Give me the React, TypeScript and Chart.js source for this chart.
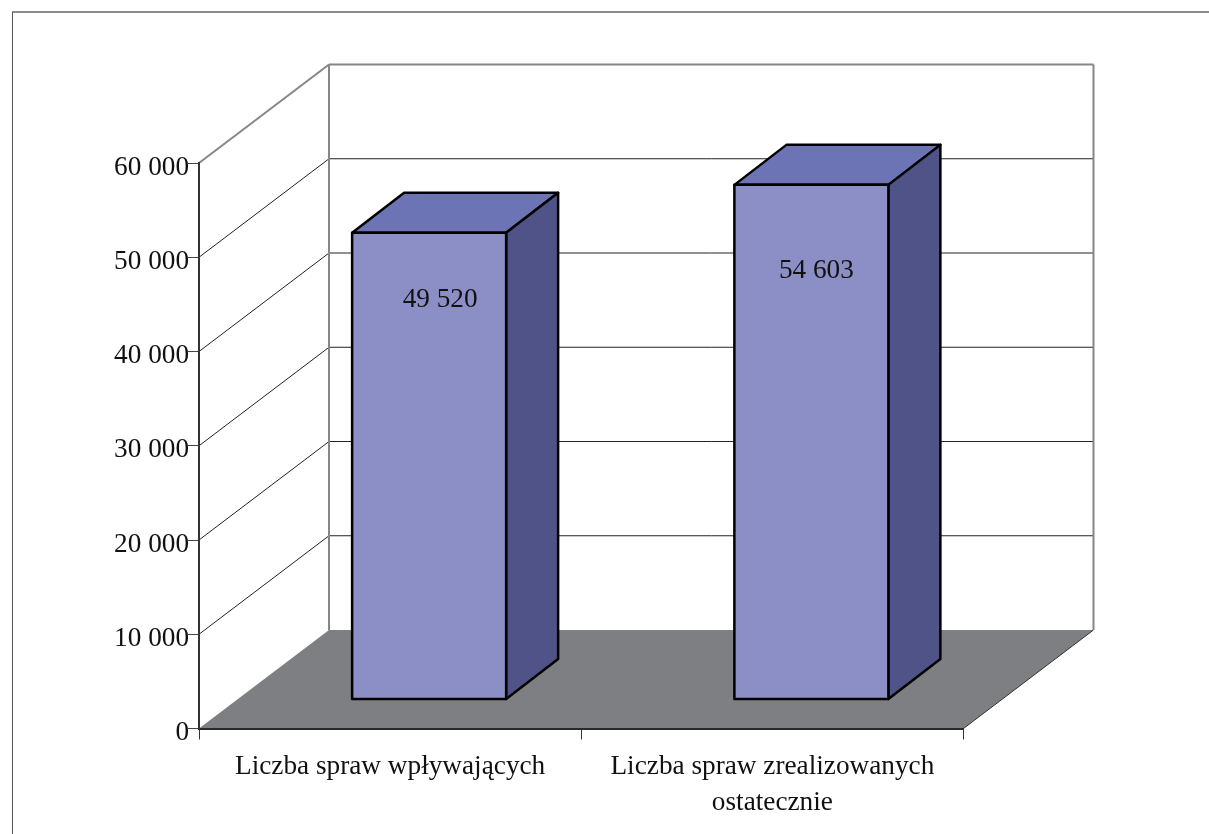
import React, { useEffect, useRef } from "react";
import { Chart, registerables } from "chart.js";

Chart.register(...registerables);

const categories: (string | string[])[] = [
  "Liczba spraw wpływających",
  ["Liczba spraw zrealizowanych", "ostatecznie"],
];
const caseCounts = [49520, 54603];
const axisMax = 60000;
const axisStep = 10000;

const FONT = "'Liberation Serif'";
const FONT_SIZE = 27.25;
const WALL_DX = 130;
const WALL_DY = -98.5;
const BAR_SHIFT_X = 39;
const BAR_SHIFT_Y = -29;
const BAR_DX = 52;
const BAR_DY = -40;
const LABEL_OFFSETS = [
  { x: 11, y: 67 },
  { x: 5, y: 86 },
];

const fmt = (v: number) => String(v).replace(/\B(?=(\d{3})+(?!\d))/g, " ");

const poly = (ctx: CanvasRenderingContext2D, pts: number[][], fill?: string, stroke?: string, lw = 1) => {
  ctx.beginPath();
  pts.forEach(([x, y], i) => (i ? ctx.lineTo(x, y) : ctx.moveTo(x, y)));
  ctx.closePath();
  if (fill) {
    ctx.fillStyle = fill;
    ctx.fill();
  }
  if (stroke) {
    ctx.strokeStyle = stroke;
    ctx.lineWidth = lw;
    ctx.lineJoin = "round";
    ctx.stroke();
  }
};
const line = (ctx: CanvasRenderingContext2D, x1: number, y1: number, x2: number, y2: number, c: string, lw: number) => {
  ctx.beginPath();
  ctx.moveTo(x1, y1);
  ctx.lineTo(x2, y2);
  ctx.strokeStyle = c;
  ctx.lineWidth = lw;
  ctx.stroke();
};

const scene3d = {
  id: "scene3d",
  beforeDraw(chart: any) {
    const { ctx, chartArea: a, scales } = chart;
    const y = scales.y;
    ctx.save();
    ctx.fillStyle = "#ffffff";
    ctx.fillRect(0, 0, chart.width, chart.height);
    // outer frame
    line(ctx, 12.5, 12, 12.5, chart.height, "#555555", 1);
    line(ctx, 12, 12, chart.width, 12, "#666666", 1.5);
    // floor
    poly(ctx, [
      [a.left, a.bottom],
      [a.left + WALL_DX, a.bottom + WALL_DY],
      [a.right + WALL_DX, a.bottom + WALL_DY],
      [a.right, a.bottom],
    ], "#7e7f83");
    line(ctx, a.right, a.bottom, a.right + WALL_DX, a.bottom + WALL_DY, "#333333", 1);
    // gridlines on side and back walls
    y.ticks.forEach((t: any) => {
      const py = y.getPixelForValue(t.value);
      if (t.value === 0) return;
      const top = t.value === axisMax;
      const c = top ? "#85858b" : "#222222";
      const w = top ? 2 : 1;
      line(ctx, a.left, py, a.left + WALL_DX, py + WALL_DY, c, w);
      line(ctx, a.left + WALL_DX, py + WALL_DY, a.right + WALL_DX, py + WALL_DY, c, w);
    });
    // wall verticals
    line(ctx, a.left + WALL_DX, a.top + WALL_DY, a.left + WALL_DX, a.bottom + WALL_DY, "#85858b", 2);
    line(ctx, a.right + WALL_DX, a.top + WALL_DY, a.right + WALL_DX, a.bottom + WALL_DY, "#85858b", 2);
    ctx.restore();
  },
  beforeDatasetsDraw(chart: any) {
    const { ctx } = chart;
    ctx.save();
    ctx.translate(BAR_SHIFT_X, BAR_SHIFT_Y);
    chart.getDatasetMeta(0).data.forEach((bar: any) => {
      const l = bar.x - bar.width / 2;
      const r = bar.x + bar.width / 2;
      const t = bar.y;
      const b = bar.base;
      poly(ctx, [[l, t], [l + BAR_DX, t + BAR_DY], [r + BAR_DX, t + BAR_DY], [r, t]], "#6c74b5", "#000000", 2.5);
      poly(ctx, [[r, t], [r + BAR_DX, t + BAR_DY], [r + BAR_DX, b + BAR_DY], [r, b]], "#505388", "#000000", 2.5);
    });
  },
  afterDatasetsDraw(chart: any) {
    const { ctx } = chart;
    chart.getDatasetMeta(0).data.forEach((bar: any) => {
      const l = bar.x - bar.width / 2;
      const r = bar.x + bar.width / 2;
      poly(ctx, [[l, bar.y], [r, bar.y], [r, bar.base], [l, bar.base]], undefined, "#000000", 2.5);
    });
    ctx.fillStyle = "#111111";
    ctx.font = `${FONT_SIZE}px ${FONT}`;
    ctx.textAlign = "center";
    ctx.textBaseline = "middle";
    chart.getDatasetMeta(0).data.forEach((bar: any, i: number) => {
      const o = LABEL_OFFSETS[i];
      ctx.fillText(fmt(caseCounts[i]), bar.x + o.x, bar.y + o.y);
    });
    ctx.restore();
  },
};

export default function App() {
  const ref = useRef<HTMLCanvasElement>(null);
  useEffect(() => {
    const chart = new Chart(ref.current as HTMLCanvasElement, {
      type: "bar",
      data: {
        labels: categories as any,
        datasets: [
          {
            data: caseCounts,
            backgroundColor: "#8c8fc6",
            borderWidth: 0,
            barThickness: 154,
            clip: false as any,
          },
        ],
      },
      options: {
        animation: false,
        responsive: false,
        layout: { padding: { left: 0, right: 245.5, top: 163, bottom: 0 } },
        plugins: { legend: { display: false }, tooltip: { enabled: false } },
        scales: {
          x: {
            afterFit: (s: any) => {
              s.height = 105.5;
            },
            grid: { drawOnChartArea: false, drawTicks: true, tickLength: 11, color: "#333333" },
            border: { color: "#2a2a2a", width: 2 },
            ticks: {
              color: "#111111",
              padding: 9,
              maxRotation: 0,
              autoSkip: false,
              font: { family: FONT, size: FONT_SIZE, lineHeight: 1.33 },
            },
          },
          y: {
            min: 0,
            max: axisMax,
            afterFit: (s: any) => {
              s.width = 199;
            },
            grid: { drawOnChartArea: false, drawTicks: true, tickLength: 11, color: "#444444" },
            border: { color: "#333333", width: 2 },
            ticks: {
              stepSize: axisStep,
              color: "#111111",
              padding: -1,
              labelOffset: 4.5,
              font: { family: FONT, size: FONT_SIZE },
              callback: (v: any) => fmt(Number(v)),
            },
          },
        },
      },
      plugins: [scene3d],
    } as any);
    return () => chart.destroy();
  }, []);
  return (
    <canvas
      ref={ref}
      width={1209}
      height={834}
      style={{ position: "fixed", left: 0, top: 0, display: "block", background: "#ffffff" }}
    />
  );
}
